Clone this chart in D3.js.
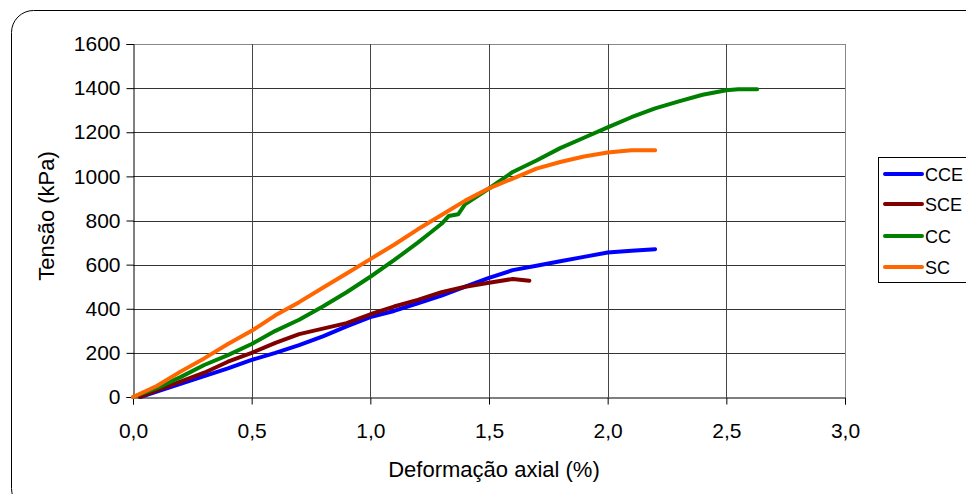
<!DOCTYPE html>
<html><head><meta charset="utf-8">
<script src="https://cdn.jsdelivr.net/npm/d3@7"></script>
<style>body{margin:0;background:#fff}svg{display:block;font-family:"Liberation Sans",Arial,sans-serif}</style>
</head><body><svg id="c" width="966" height="494"></svg>
<script>
const seriesNames = ["CCE","SCE","CC","SC"];
const seriesColors = ["#0000FF","#800000","#008000","#FF6600"];
const xTicks = [0,0.5,1.0,1.5,2.0,2.5,3.0];
const yTicks = [0,200,400,600,800,1000,1200,1400,1600];

const cceX = [0.03,0.1,0.2,0.3,0.4,0.5,0.6,0.7,0.8,0.9,1.0,1.1,1.2,1.3,1.4,1.5,1.6,1.7,1.8,1.9,2.0,2.1,2.2];
const cceY = [0,25,60,95,130,168,200,235,275,320,362,390,425,460,500,540,575,595,615,635,655,663,670];
const sceX = [0.03,0.1,0.2,0.3,0.4,0.5,0.6,0.7,0.8,0.9,1.0,1.1,1.2,1.3,1.4,1.5,1.6,1.67];
const sceY = [0,30,70,110,160,200,245,285,310,335,375,410,440,475,500,518,535,527];
const ccX = [0.0,0.1,0.2,0.3,0.4,0.5,0.6,0.7,0.8,0.9,1.0,1.1,1.2,1.25,1.3,1.33,1.37,1.4,1.5,1.6,1.7,1.8,1.9,2.0,2.1,2.2,2.3,2.4,2.5,2.55,2.63];
const ccY = [0,40,90,145,190,240,300,350,410,475,545,620,700,742,785,820,828,875,945,1020,1072,1128,1175,1222,1268,1308,1340,1370,1390,1395,1395];
const scX = [0.0,0.1,0.2,0.3,0.4,0.5,0.6,0.7,0.8,0.9,1.0,1.1,1.2,1.3,1.4,1.5,1.6,1.7,1.8,1.9,2.0,2.1,2.2];
const scY = [0,50,115,175,240,300,370,430,495,560,625,690,760,825,890,946,990,1035,1065,1090,1108,1118,1118];

const svg = d3.select("#c");
svg.append("rect").attr("x",11.5).attr("y",10.5).attr("width",1000).attr("height",500)
  .attr("rx",22).attr("fill","#fff").attr("stroke","#000").attr("stroke-width",1);

const m = {l:133, r:845, t:44, b:397};
const x = d3.scaleLinear().domain([0,3]).range([m.l,m.r]);
const y = d3.scaleLinear().domain([0,1600]).range([m.b,m.t]);

// gridlines
const g = svg.append("g");
g.selectAll(".hg").data(yTicks.slice(1)).join("line")
  .attr("x1",m.l).attr("x2",m.r).attr("y1",d=>Math.round(y(d))+0.5).attr("y2",d=>Math.round(y(d))+0.5)
  .attr("stroke",d=>d===1600?"#888":"#333").attr("stroke-width",1);
g.selectAll(".vg").data(xTicks.slice(1)).join("line")
  .attr("y1",m.t).attr("y2",m.b).attr("x1",d=>Math.round(x(d))+0.5).attr("x2",d=>Math.round(x(d))+0.5)
  .attr("stroke",d=>d===3?"#888":"#444").attr("stroke-width",1);

// axes
const xa = svg.append("g").attr("transform",`translate(0,${m.b+0.5})`)
  .call(d3.axisBottom(x).tickValues(xTicks).tickSize(7).tickPadding(19).tickFormat(d=>d3.format(".1f")(d).replace(".",",")));
const ya = svg.append("g").attr("transform",`translate(${m.l+0.5},0)`)
  .call(d3.axisLeft(y).tickValues(yTicks).tickSize(7).tickPadding(6).tickFormat(d=>d));
[xa,ya].forEach(a=>{a.select(".domain").attr("stroke","#000");a.selectAll(".tick line").attr("stroke","#000");
  a.selectAll("text").attr("font-size",21).attr("fill","#000").attr("font-family","Liberation Sans, Arial, sans-serif");});

// series
const data = [[cceX,cceY],[sceX,sceY],[ccX,ccY],[scX,scY]];
const line = d3.line().x(d=>x(d[0])).y(d=>y(d[1]));
data.forEach((s,i)=>{
  const pts = s[0].map((v,j)=>[v,s[1][j]]);
  svg.append("path").datum(pts).attr("d",line).attr("fill","none")
    .attr("stroke",seriesColors[i]).attr("stroke-width",4).attr("stroke-linejoin","round").attr("stroke-linecap","round");
});

// titles
svg.append("text").attr("x",494).attr("y",477).attr("text-anchor","middle").attr("font-size",22).text("Deformação axial (%)");
svg.append("text").attr("transform","translate(54,216) rotate(-90)").attr("text-anchor","middle").attr("font-size",22).text("Tensão (kPa)");

// legend
const lg = svg.append("g");
lg.append("rect").attr("x",878.5).attr("y",157.5).attr("width",100).attr("height",125).attr("fill","#fff").attr("stroke","#000");
const ly = [174,204,236,267];
seriesNames.forEach((n,i)=>{
  lg.append("line").attr("x1",885).attr("x2",922).attr("y1",ly[i]).attr("y2",ly[i])
    .attr("stroke",seriesColors[i]).attr("stroke-width",4).attr("stroke-linecap","round");
  lg.append("text").attr("x",925).attr("y",ly[i]+6.5).attr("font-size",18).text(n);
});
</script></body></html>
